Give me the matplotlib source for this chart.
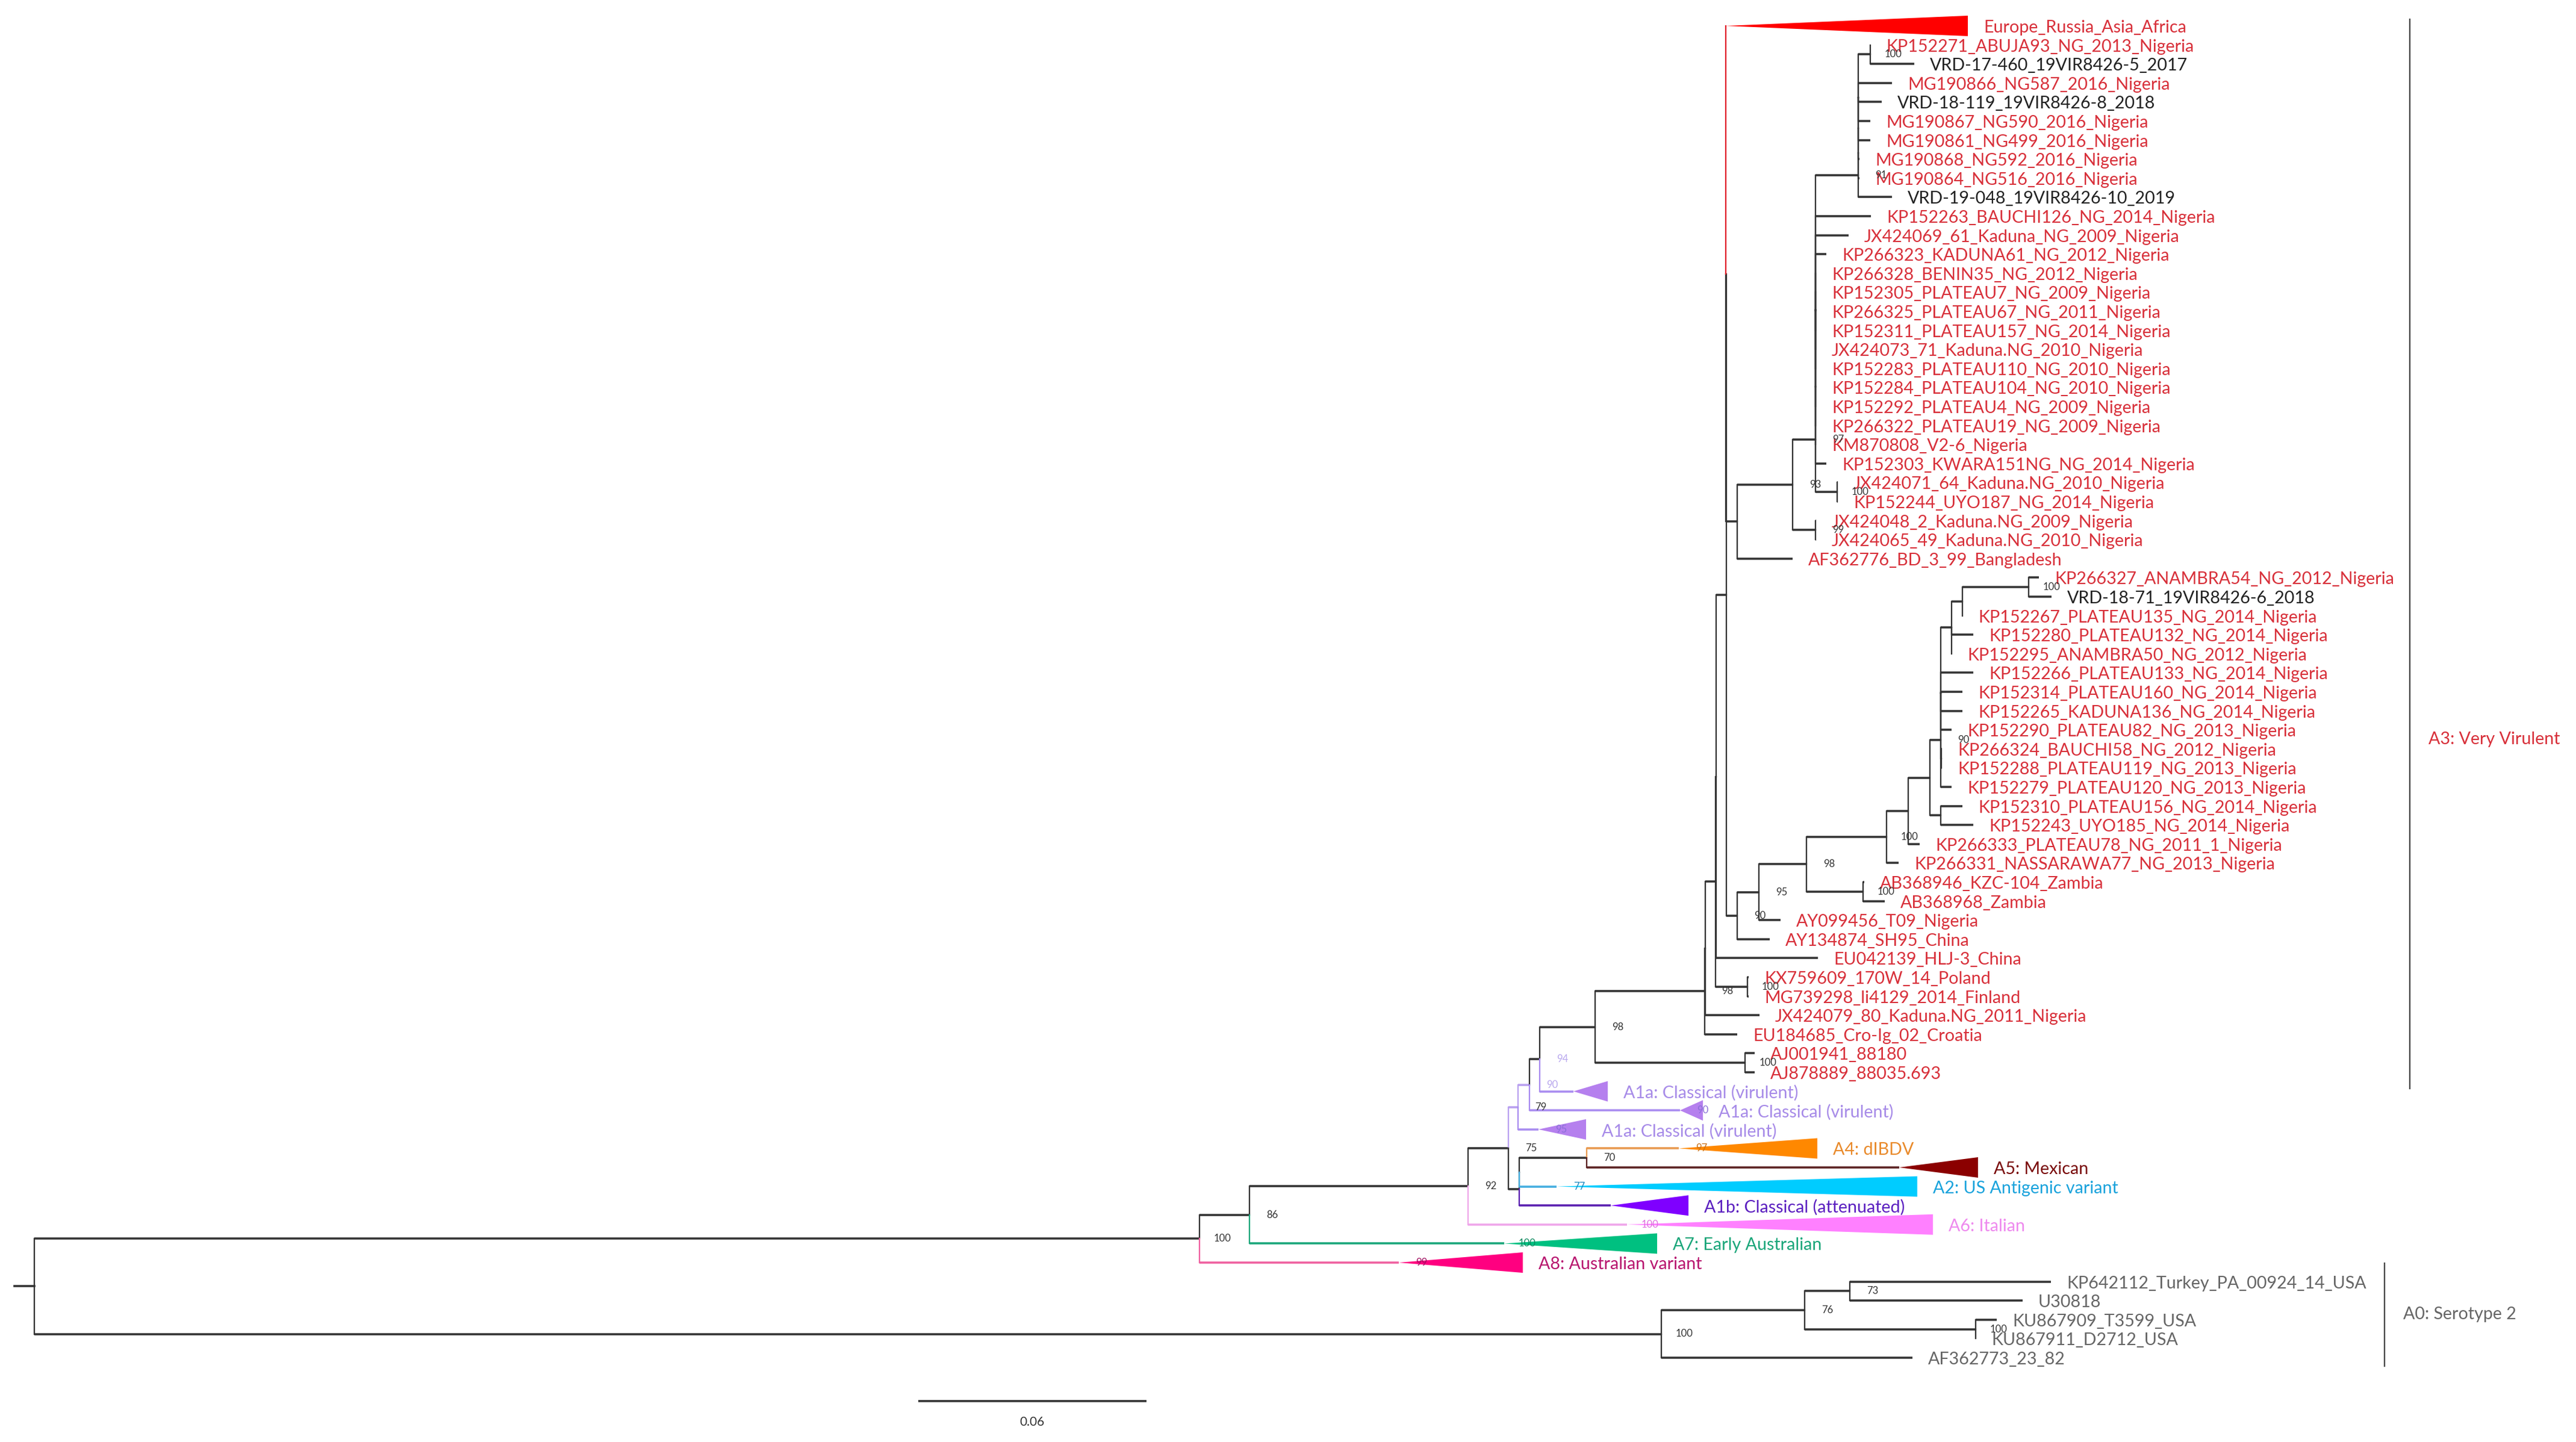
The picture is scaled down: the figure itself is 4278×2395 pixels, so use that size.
import matplotlib
matplotlib.use("Agg")
import matplotlib.pyplot as plt

plt.rcParams["font.family"] = ["Lato", "DejaVu Sans"]

# all x values in image pixels, y comes from the leaf row
ROW0 = 43.0
ROW_H = 31.6
LABEL_GAP = 26
LABEL_DY = 3

# internal nodes: parent and x position
node_parent = {
    "root": None, "ao": "root", "an": "ao", "am": "an", "aj2": "am", "ai": "aj2",
    "ah": "ai", "ag": "ah", "ae": "ag", "ac": "ae", "ad": "ac", "aa": "ad", "ab": "aa",
    "b": "ab", "a": "b", "q": "a", "r": "q", "s": "r", "u": "s", "a3": "u", "w": "a3",
    "w2": "w", "w3": "w2", "w4": "w3", "vn": "w4", "x": "s", "t": "r", "c": "b", "d": "c",
    "e": "d", "f": "e", "h": "f", "i": "h", "j": "i", "k": "i", "l": "j", "m": "l",
    "o": "m", "pn": "o", "n": "l", "g": "e", "kx": "aa", "aj": "ae", "ak": "aj2",
    "ak2": "ak", "al": "ak2", "ap": "root", "aq": "ap", "ar": "aq", "as": "aq",
}
node_x = {
    "root": 57, "ao": 1992, "an": 2075, "am": 2438, "aj2": 2505, "ai": 2521,
    "ah": 2540, "ag": 2557, "ae": 2649, "ac": 2831, "ad": 2832, "aa": 2849, "ab": 2850,
    "b": 2867, "a": 2866, "q": 2885, "r": 2977, "s": 3015, "u": 3015, "a3": 3015, "w": 3086,
    "w2": 3086, "w3": 3086, "w4": 3086, "vn": 3106, "x": 3051, "t": 3015, "c": 2885, "d": 2921,
    "e": 3000, "f": 3133, "h": 3169, "i": 3205, "j": 3223, "k": 3223, "l": 3223, "m": 3241,
    "o": 3259, "pn": 3369, "n": 3224, "g": 3094, "kx": 2902, "aj": 2898, "ak": 2523,
    "ak2": 2523, "al": 2635, "ap": 2759, "aq": 2997, "ar": 3072, "as": 3281,
}
node_colors = {"ai": "#b9a0f0", "ah": "#b9a0f0", "a": "#333333"}

# leaves, top to bottom, one per row
leaf_names = [
    "Europe_Russia_Asia_Africa", "KP152271_ABUJA93_NG_2013_Nigeria", "VRD-17-460_19VIR8426-5_2017",
    "MG190866_NG587_2016_Nigeria", "VRD-18-119_19VIR8426-8_2018", "MG190867_NG590_2016_Nigeria",
    "MG190861_NG499_2016_Nigeria", "MG190868_NG592_2016_Nigeria", "MG190864_NG516_2016_Nigeria",
    "VRD-19-048_19VIR8426-10_2019", "KP152263_BAUCHI126_NG_2014_Nigeria", "JX424069_61_Kaduna_NG_2009_Nigeria",
    "KP266323_KADUNA61_NG_2012_Nigeria", "KP266328_BENIN35_NG_2012_Nigeria", "KP152305_PLATEAU7_NG_2009_Nigeria",
    "KP266325_PLATEAU67_NG_2011_Nigeria", "KP152311_PLATEAU157_NG_2014_Nigeria", "JX424073_71_Kaduna.NG_2010_Nigeria",
    "KP152283_PLATEAU110_NG_2010_Nigeria", "KP152284_PLATEAU104_NG_2010_Nigeria", "KP152292_PLATEAU4_NG_2009_Nigeria",
    "KP266322_PLATEAU19_NG_2009_Nigeria", "KM870808_V2-6_Nigeria", "KP152303_KWARA151NG_NG_2014_Nigeria",
    "JX424071_64_Kaduna.NG_2010_Nigeria", "KP152244_UYO187_NG_2014_Nigeria", "JX424048_2_Kaduna.NG_2009_Nigeria",
    "JX424065_49_Kaduna.NG_2010_Nigeria", "AF362776_BD_3_99_Bangladesh", "KP266327_ANAMBRA54_NG_2012_Nigeria",
    "VRD-18-71_19VIR8426-6_2018", "KP152267_PLATEAU135_NG_2014_Nigeria", "KP152280_PLATEAU132_NG_2014_Nigeria",
    "KP152295_ANAMBRA50_NG_2012_Nigeria", "KP152266_PLATEAU133_NG_2014_Nigeria", "KP152314_PLATEAU160_NG_2014_Nigeria",
    "KP152265_KADUNA136_NG_2014_Nigeria", "KP152290_PLATEAU82_NG_2013_Nigeria", "KP266324_BAUCHI58_NG_2012_Nigeria",
    "KP152288_PLATEAU119_NG_2013_Nigeria", "KP152279_PLATEAU120_NG_2013_Nigeria", "KP152310_PLATEAU156_NG_2014_Nigeria",
    "KP152243_UYO185_NG_2014_Nigeria", "KP266333_PLATEAU78_NG_2011_1_Nigeria", "KP266331_NASSARAWA77_NG_2013_Nigeria",
    "AB368946_KZC-104_Zambia", "AB368968_Zambia", "AY099456_T09_Nigeria", "AY134874_SH95_China",
    "EU042139_HLJ-3_China", "KX759609_170W_14_Poland", "MG739298_li4129_2014_Finland",
    "JX424079_80_Kaduna.NG_2011_Nigeria", "EU184685_Cro-Ig_02_Croatia", "AJ001941_88180", "AJ878889_88035.693",
    "A1a: Classical (virulent)", "A1a: Classical (virulent)", "A1a: Classical (virulent)", "A4: dIBDV", "A5: Mexican",
    "A2: US Antigenic variant", "A1b: Classical (attenuated)", "A6: Italian", "A7: Early Australian",
    "A8: Australian variant", "KP642112_Turkey_PA_00924_14_USA", "U30818", "KU867909_T3599_USA",
    "KU867911_D2712_USA", "AF362773_23_82",
]
leaf_parent = [
    "a", "vn", "vn", "w4", "w4", "w4", "w4", "w3", "w2", "w",
    "a3", "a3", "a3", "a3", "a3", "a3", "a3", "a3", "a3", "a3", "a3", "a3", "a3", "u",
    "x", "x", "t", "t", "q", "pn", "pn", "o", "m", "m", "l", "l", "l", "l", "n", "n",
    "j", "k", "k", "h", "f", "g", "g", "d", "c", "ab", "kx", "kx", "ad", "ac", "aj", "aj",
    "ag", "ah", "ai", "al", "al", "ak2", "ak", "am", "an", "ao", "ar", "ar", "as", "as", "ap",
]
# branch tip x, for collapsed clades this is the base of the triangle
leaf_x = [
    3268, 3106, 3179, 3142, 3125, 3106, 3106, 3088, 3088, 3142,
    3107, 3070, 3033, 3016, 3016, 3016, 3016, 3016, 3016, 3016, 3016, 3016, 3016, 3033,
    3052, 3052, 3016, 3016, 2977, 3386, 3407, 3259, 3277, 3241, 3277, 3259, 3259, 3241, 3225, 3225,
    3241, 3259, 3277, 3188, 3153, 3096, 3130, 2957, 2939, 3019, 2904, 2904, 2922, 2885, 2914, 2914,
    2670, 2828, 2634, 3018, 3285, 3184, 2804, 3210, 2752, 2529, 3406, 3359, 3316, 3281, 3176,
]

# collapsed clades
clade_rows = [0, 56, 57, 58, 59, 60, 61, 62, 63, 64, 65]
clade_apex = [2866, 2613, 2790, 2555, 2788, 3154, 2585, 2675, 2702, 2498, 2323]
clade_fill = ["#ff0000", "#b580ee", "#b580ee", "#b580ee", "#ff8800", "#8b0000",
              "#00ccff", "#7f00ff", "#ff80ff", "#00c080", "#ff0080"]
clade_branch = ["#e0202a", "#a98cf0", "#a98cf0", "#a98cf0", "#e89a50", "#5a2020",
                "#45aee0", "#5a20b0", "#efa6ea", "#1aa67a", "#ef5f9f"]
clade_text = ["#d8303a", "#a78be8", "#a78be8", "#a78be8", "#e98a2b", "#7a0c0c",
              "#1aa3dc", "#5b1fc0", "#ee8aee", "#1aa67a", "#b8156f"]

black_rows = [2, 4, 9, 30]
grey_rows = [66, 67, 68, 69, 70]

# bootstrap values at nodes
support_nodes = ["vn", "w", "s", "x", "t", "r", "pn", "j", "f", "e", "d", "c", "g", "kx", "ac",
                 "aj", "ae", "ag", "ah", "ai", "aj2", "al", "am", "an", "ao", "ap", "aq", "ar", "as"]
support_vals = ["100", "91", "97", "100", "99", "93", "100", "90", "100", "98", "95", "90", "100", "100", "98",
                "100", "98", "94", "90", "79", "75", "70", "92", "86", "100", "100", "76", "73", "100"]
light_support = ["ag", "ah"]
# bootstrap values sitting on collapsed clades: row, value, colour
clade_support_rows = [57, 58, 59, 61, 63, 64, 65]
clade_support_vals = ["90", "95", "97", "77", "100", "100", "99"]
clade_support_cols = ["#8a6fd8", "#8a6fd8", "#c9701a", "#1a88c0", "#e070e0", "#0f8a60", "#a01060"]

# side annotations
bracket_x = [4002, 3960]
bracket_top = [32, 2098]
bracket_bottom = [1808, 2269]
bracket_text = ["A3: Very Virulent", "A0: Serotype 2"]
bracket_text_x = [4033, 3991]
bracket_text_y = [1228, 2183]
bracket_text_col = ["#d8303a", "#666666"]

scale_start, scale_end = 1525, 1904
scale_y = 2327
scale_label = "0.06"

BRANCH = "#333333"
LABEL_SIZE = 6.87
SUPPORT_SIZE = 4.0


def node_y(name, children, cache):
    # FigTree style: a node sits halfway between its first and last child
    if name in cache:
        return cache[name]
    ys = [node_y(c, children, cache) for c in children[name]]
    cache[name] = (min(ys) + max(ys)) / 2
    return cache[name]


def draw_branch(ax, x0, y0, x1, y1, color):
    ax.plot([x0, x0], [y0, y1], color=color, lw=0.55, solid_capstyle="projecting", zorder=2)
    ax.plot([x0, x1], [y1, y1], color=color, lw=0.85, solid_capstyle="butt", zorder=2)


# leaf ids are prefixed so they can't clash with node names
children = {n: [] for n in node_parent}
y_cache = {}
for n, p in node_parent.items():
    if p is not None:
        children[p].append(n)
for row, p in enumerate(leaf_parent):
    leaf = f"leaf{row}"
    children[p].append(leaf)
    y_cache[leaf] = ROW0 + ROW_H * row
for n in node_parent:
    node_y(n, children, y_cache)

fig = plt.figure(figsize=(4278 / 300, 2395 / 300), dpi=300)
ax = fig.add_axes([0, 0, 1, 1])
ax.set_xlim(0, 4278)
ax.set_ylim(2395, 0)
ax.axis("off")

# root stub and internal branches
ax.plot([24, node_x["root"]], [y_cache["root"]] * 2, color=BRANCH, lw=0.85)
for n, p in node_parent.items():
    if p is None:
        continue
    draw_branch(ax, node_x[p], y_cache[p], node_x[n], y_cache[n], node_colors.get(n, BRANCH))

# leaves
for row, name in enumerate(leaf_names):
    p = leaf_parent[row]
    y = y_cache[f"leaf{row}"]
    tip = leaf_x[row]
    if row in clade_rows:
        i = clade_rows.index(row)
        apex = clade_apex[i]
        draw_branch(ax, node_x[p], y_cache[p], apex, y, clade_branch[i])
        ax.fill([apex, tip, tip], [y, y - 17, y + 17], color=clade_fill[i], lw=0, zorder=3)
        col = clade_text[i]
    else:
        draw_branch(ax, node_x[p], y_cache[p], tip, y, BRANCH)
        col = "#222222" if row in black_rows else "#666666" if row in grey_rows else "#d8303a"
    ax.text(tip + LABEL_GAP, y + LABEL_DY, name, color=col, fontsize=LABEL_SIZE, va="center", ha="left", zorder=5)

# bootstrap labels
for n, v in zip(support_nodes, support_vals):
    col = "#b9a8ee" if n in light_support else "#333333"
    ax.text(node_x[n] + 38, y_cache[n], v, color=col, fontsize=SUPPORT_SIZE, ha="center", va="center", zorder=6)
for row, v, col in zip(clade_support_rows, clade_support_vals, clade_support_cols):
    apex = clade_apex[clade_rows.index(row)]
    ax.text(apex + 38, y_cache[f"leaf{row}"], v, color=col, fontsize=SUPPORT_SIZE, ha="center", va="center", zorder=6)

# brackets on the right
for i in range(len(bracket_x)):
    ax.plot([bracket_x[i]] * 2, [bracket_top[i], bracket_bottom[i]], color="#444444", lw=0.55)
    ax.text(bracket_text_x[i], bracket_text_y[i], bracket_text[i], color=bracket_text_col[i],
            fontsize=LABEL_SIZE, va="center", ha="left")

# scale bar
ax.plot([scale_start, scale_end], [scale_y, scale_y], color=BRANCH, lw=0.85, solid_capstyle="butt")
ax.text((scale_start + scale_end) / 2, scale_y + 35, scale_label, color="#333333",
        fontsize=5, ha="center", va="center")

fig.savefig("out.png", dpi=300)
